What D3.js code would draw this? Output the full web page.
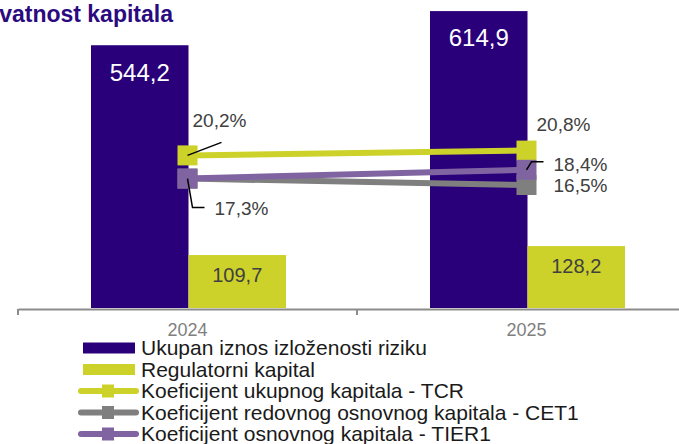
<!DOCTYPE html>
<html>
<head>
<meta charset="utf-8">
<script src="https://cdn.jsdelivr.net/npm/d3@7"></script>
<style>
  body { margin: 0; background: #fff; }
  svg { font-family: "Liberation Sans", Arial, sans-serif; display: block; }
</style>
</head>
<body>
<svg id="drawing_region"></svg>
<script>
// data
const years = ['2024', '2025'];
const exposure = [544.2, 614.9];   // Ukupan iznos izloženosti riziku
const capital = [109.7, 128.2];    // Regulatorni kapital
const tcr = [20.2, 20.8];
const cet1 = [17.3, 16.5];
const tier1 = [17.3, 18.4];

const barNames = ['Ukupan iznos izloženosti riziku', 'Regulatorni kapital'];
const lineNames = [
    'Koeficijent ukupnog kapitala - TCR',
    'Koeficijent redovnog osnovnog kapitala - CET1',
    'Koeficijent osnovnog kapitala - TIER1'
];

const colors = {
    dark: '#2a007a',
    yellow: '#cdd22a',
    gray: '#7f7f7f',
    purple: '#8064a2'
};

const locale = d3.formatLocale({decimal: ',', thousands: '.', grouping: [3], currency: ['', '']});
const fmt = locale.format('.1f');

const width = 679, height = 444;
const svg = d3.select('#drawing_region')
    .attr('width', width)
    .attr('height', height);

// title (cropped on the left, as in the source)
svg.append('text')
    .attr('x', 173)
    .attr('y', 22)
    .attr('text-anchor', 'end')
    .attr('font-size', 23)
    .attr('font-weight', 'bold')
    .attr('fill', '#2b0a80')
    .text('Adekvatnost kapitala');

const axisY = 308;

const x0 = d3.scaleBand()
    .domain(years)
    .range([18, 18 + 2 * 339]);

const x1 = d3.scaleBand()
    .domain([0, 1])
    .range([73, 268]);

const y = d3.scaleLinear()
    .domain([0, 700])
    .range([axisY, -30]);

const y2 = d3.scaleLinear()
    .domain([0, 40])
    .range([317, -3]);

// bars
const barData = [];
years.forEach((yr, i) => {
    barData.push({year: yr, k: 0, value: exposure[i]});
    barData.push({year: yr, k: 1, value: capital[i]});
});

const chart = svg.append('g');

chart.selectAll('rect.bar')
    .data(barData)
    .enter()
    .append('rect')
    .attr('class', 'bar')
    .attr('x', d => x0(d.year) + x1(d.k))
    .attr('y', d => y(d.value))
    .attr('width', x1.bandwidth())
    .attr('height', d => axisY - y(d.value))
    .attr('fill', d => d.k === 0 ? colors.dark : colors.yellow);

chart.selectAll('text.barlabel')
    .data(barData)
    .enter()
    .append('text')
    .attr('class', 'barlabel')
    .attr('x', d => x0(d.year) + x1(d.k) + x1.bandwidth() / 2)
    .attr('y', d => y(d.value) + (d.k === 0 ? 27 : 20))
    .attr('dy', '0.35em')
    .attr('text-anchor', 'middle')
    .attr('font-size', d => d.k === 0 ? 24 : 20)
    .attr('fill', d => d.k === 0 ? '#ffffff' : '#404040')
    .text(d => fmt(d.value));

// axis
const xAxis = d3.axisBottom(x0).tickSize(0).tickPadding(14).tickSizeOuter(0);
const gx = chart.append('g')
    .attr('transform', `translate(0, ${axisY + 1})`)
    .call(xAxis);
gx.select('.domain').attr('stroke', '#8c8c8c').attr('stroke-width', 2);
gx.selectAll('.tick text')
    .attr('font-size', 18)
    .attr('font-family', '"Liberation Sans", Arial, sans-serif')
    .attr('fill', '#7f7f7f');

const bounds = years.map(d => x0(d)).concat([x0.range()[1]]);
gx.selectAll('line.bound')
    .data(bounds)
    .enter()
    .append('line')
    .attr('class', 'bound')
    .attr('x1', d => d)
    .attr('x2', d => d)
    .attr('y1', 0)
    .attr('y2', 6)
    .attr('stroke', '#8c8c8c')
    .attr('stroke-width', 2);

// lines
const series = [
    {name: lineNames[0], values: tcr, color: colors.yellow},
    {name: lineNames[1], values: cet1, color: colors.gray},
    {name: lineNames[2], values: tier1, color: colors.purple}
];

const cx = d => x0(d) + x0.bandwidth() / 2;
const line = d3.line()
    .x(d => cx(d.year))
    .y(d => y2(d.v));

series.forEach(s => {
    const pts = years.map((yr, i) => ({year: yr, v: s.values[i]}));
    chart.append('path')
        .datum(pts)
        .attr('d', line)
        .attr('fill', 'none')
        .attr('stroke', s.color)
        .attr('stroke-width', 6);
    chart.selectAll(null)
        .data(pts)
        .enter()
        .append('rect')
        .attr('x', d => cx(d.year) - 10)
        .attr('y', d => y2(d.v) - 10)
        .attr('width', 20)
        .attr('height', 20)
        .attr('fill', s.color);
});

// percentage labels: [series index, year index, dx, dy(baseline), leader points]
const pctLabels = [
    {s: 0, i: 0, dx: 5, dy: -28, leader: [[0, 0], [34, -13]]},
    {s: 2, i: 0, dx: 27, dy: 36, leader: [[0, 0], [5, 29], [17, 29]]},
    {s: 0, i: 1, dx: 10, dy: -20, leader: null},
    {s: 2, i: 1, dx: 27, dy: 1, leader: [[0, 0], [5, -8], [17, -8]]},
    {s: 1, i: 1, dx: 27, dy: 7, leader: null}
];

pctLabels.forEach(l => {
    const px = cx(years[l.i]);
    const py = y2(series[l.s].values[l.i]);
    if (l.leader) {
        chart.append('path')
            .attr('d', d3.line()(l.leader.map(p => [px + p[0], py + p[1]])))
            .attr('fill', 'none')
            .attr('stroke', '#000')
            .attr('stroke-width', 1.5);
    }
    chart.append('text')
        .attr('x', px + l.dx)
        .attr('y', py + l.dy)
        .attr('font-size', 19)
        .attr('fill', '#404040')
        .text(fmt(series[l.s].values[l.i]) + '%');
});

// legend
const legendItems = [
    {name: barNames[0], color: colors.dark, type: 'bar'},
    {name: barNames[1], color: colors.yellow, type: 'bar'},
    {name: lineNames[0], color: colors.yellow, type: 'line'},
    {name: lineNames[1], color: colors.gray, type: 'line'},
    {name: lineNames[2], color: colors.purple, type: 'line'}
];

const legend = svg.append('g')
    .attr('transform', 'translate(0, 348)');

const rows = legend.selectAll('g.row')
    .data(legendItems)
    .enter()
    .append('g')
    .attr('class', 'row')
    .attr('transform', (d, i) => `translate(0, ${i * 21.5})`);

rows.filter(d => d.type === 'bar')
    .append('rect')
    .attr('x', 83)
    .attr('y', -5.5)
    .attr('width', 52)
    .attr('height', 11)
    .attr('fill', d => d.color);

rows.filter(d => d.type === 'line')
    .append('line')
    .attr('x1', 81)
    .attr('x2', 136)
    .attr('y1', 0)
    .attr('y2', 0)
    .attr('stroke', d => d.color)
    .attr('stroke-width', 6)
    .attr('stroke-linecap', 'round');

rows.filter(d => d.type === 'line')
    .append('rect')
    .attr('x', 102)
    .attr('y', -6.5)
    .attr('width', 12)
    .attr('height', 13)
    .attr('fill', d => d.color);

rows.append('text')
    .attr('x', 141)
    .attr('y', 0)
    .attr('dy', '0.35em')
    .attr('font-size', 21)
    .attr('fill', '#1a1a1a')
    .text(d => d.name);
</script>
</body>
</html>
